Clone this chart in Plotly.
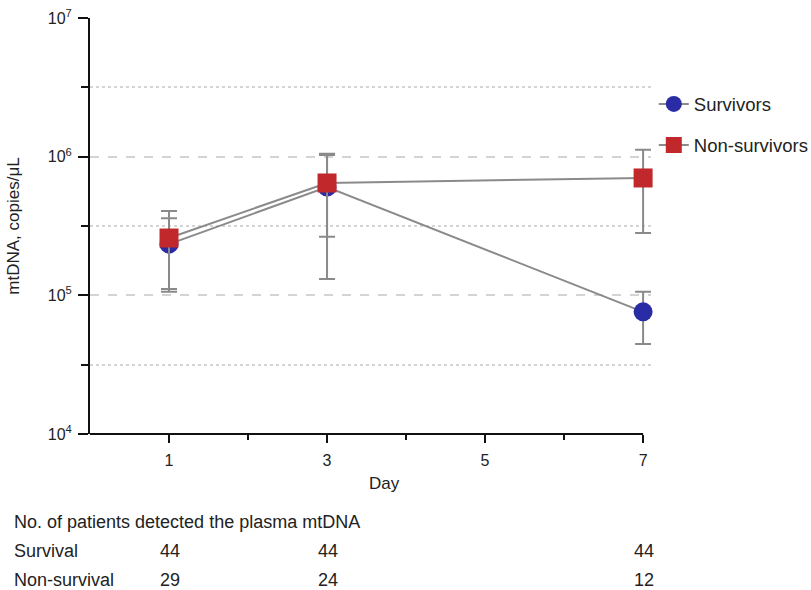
import plotly.graph_objects as go

days = [1, 3, 7]
surv_mean = [2.34e5, 6.04e5, 7.6e4]
surv_upper = [3.6e5, 1.03e6, 1.06e5]
surv_lower = [1.11e5, 1.31e5, 4.46e4]
non_mean = [2.59e5, 6.46e5, 7.02e5]
non_upper = [4.06e5, 1.05e6, 1.12e6]
non_lower = [1.06e5, 2.64e5, 2.82e5]

surv_n = ["44", "44", "44"]
non_n = ["29", "24", "12"]

x_ticks = [1, 3, 5, 7]
x_minor = [2, 4, 6]
y_ticks = [1e4, 1e5, 1e6, 1e7]
y_ticktext = ["10<sup>4</sup>", "10<sup>5</sup>", "10<sup>6</sup>", "10<sup>7</sup>"]
y_minor = [10**4.5, 10**5.5, 10**6.5]

FONT = "Liberation Sans, Arial, Helvetica, sans-serif"
GREY = "#8a8a8a"
TXT = "#222"

fig = go.Figure()


def add_series(name, mean, upper, lower, color, symbol, group):
    fig.add_trace(go.Scatter(
        x=days, y=mean, name=name, mode="lines+markers",
        legendgroup=group, cliponaxis=False,
        line=dict(color=GREY, width=2),
        marker=dict(color=color, symbol=symbol, size=19, line=dict(width=0)),
        error_y=dict(type="data", symmetric=False,
                     array=[u - m for u, m in zip(upper, mean)],
                     arrayminus=[m - l for m, l in zip(mean, lower)],
                     color=GREY, thickness=2, width=8),
    ))


add_series("Survivors", surv_mean, surv_upper, surv_lower, "#2a2ca5", "circle", "a")
add_series("Non-survivors", non_mean, non_upper, non_lower, "#c1282b", "square", "b")

fig.update_layout(
    width=811, height=590,
    margin=dict(l=90, r=160, t=18, b=156, autoexpand=False),
    plot_bgcolor="white", paper_bgcolor="white",
    font=dict(family=FONT, size=14, color=TXT),
    showlegend=True,
    legend=dict(x=1.005, y=0.838, xanchor="left", yanchor="top",
                font=dict(size=18.5, color=TXT),
                tracegroupgap=14, traceorder="grouped",
                bgcolor="rgba(0,0,0,0)"),
)

# x axis line drawn only up to day 7 (range extended so error bars at day 7 are not clipped)
fig.update_xaxes(
    range=[0, 7.1], tickvals=x_ticks, ticktext=[str(v) for v in x_ticks],
    ticks="outside", ticklen=8, tickwidth=2, tickcolor="#111",
    showline=False,
    showgrid=False, zeroline=False, automargin=False,
    ticklabelstandoff=4,
    minor=dict(tickvals=x_minor, ticks="outside", ticklen=5, tickwidth=2, tickcolor="#111", showgrid=False),
    tickfont=dict(size=16),
)
fig.add_shape(type="line", xref="x", yref="paper", x0=0, x1=7, y0=0, y1=0,
              line=dict(color="#111", width=2), layer="above")

fig.update_yaxes(
    type="log", range=[4, 7], tickvals=y_ticks, ticktext=y_ticktext,
    ticks="outside", ticklen=10, tickwidth=2, tickcolor="#111",
    showline=True, linecolor="#111", linewidth=2,
    showgrid=True, gridcolor="#d4d4d4", griddash="dash", gridwidth=1.5,
    zeroline=False, automargin=False, ticklabelstandoff=3,
    minor=dict(tickvals=y_minor, ticks="outside", ticklen=7, tickwidth=2, tickcolor="#111",
               showgrid=True, gridcolor="#d4d4d4", griddash="dot", gridwidth=1.5),
    title=dict(text="mtDNA, copies/μL", font=dict(size=17), standoff=24),
    tickfont=dict(size=16),
)

fig.add_annotation(text="Day", xref="paper", yref="paper", x=0.525, y=-0.12,
                   xanchor="center", yanchor="middle", showarrow=False,
                   font=dict(size=17, color=TXT))

fig.add_annotation(text="No. of patients detected the plasma mtDNA", xref="paper", yref="paper",
                   x=-0.139, y=-0.211, xanchor="left", yanchor="middle", showarrow=False,
                   font=dict(size=18, color=TXT))
fig.add_annotation(text="Survival", xref="paper", yref="paper",
                   x=-0.139, y=-0.281, xanchor="left", yanchor="middle", showarrow=False,
                   font=dict(size=18, color=TXT))
fig.add_annotation(text="Non-survival", xref="paper", yref="paper",
                   x=-0.139, y=-0.351, xanchor="left", yanchor="middle", showarrow=False,
                   font=dict(size=18, color=TXT))
for d, s, n in zip(days, surv_n, non_n):
    fig.add_annotation(text=s, xref="x", yref="paper", x=d, y=-0.281, xanchor="center",
                       yanchor="middle", showarrow=False, xshift=1, font=dict(size=18, color=TXT))
    fig.add_annotation(text=n, xref="x", yref="paper", x=d, y=-0.351, xanchor="center",
                       yanchor="middle", showarrow=False, xshift=1, font=dict(size=18, color=TXT))

fig.write_html("out.html", config={"displayModeBar": False},
               post_script="document.body.style.margin='0';document.body.style.padding='0';")
